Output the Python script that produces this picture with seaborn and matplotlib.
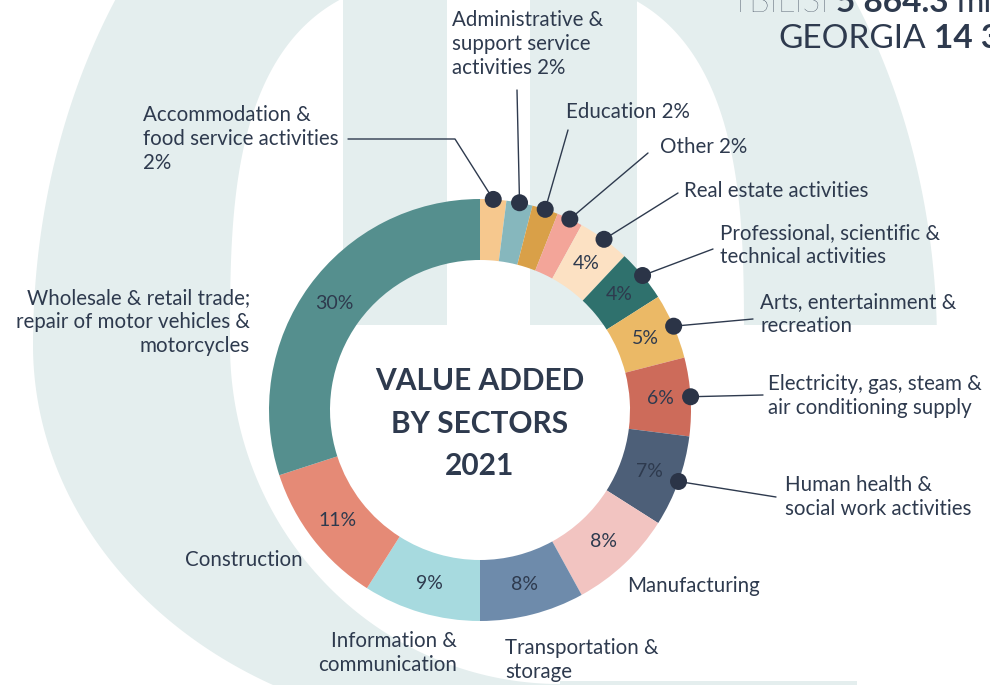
import numpy as np
import matplotlib.pyplot as plt
from matplotlib.patches import Rectangle, PathPatch
from matplotlib.path import Path
import seaborn as sns

W, H = 990, 685

sectors = [
    "Accommodation & food service activities",
    "Administrative & support service activities",
    "Education",
    "Other",
    "Real estate activities",
    "Professional, scientific & technical activities",
    "Arts, entertainment & recreation",
    "Electricity, gas, steam & air conditioning supply",
    "Human health & social work activities",
    "Manufacturing",
    "Transportation & storage",
    "Information & communication",
    "Construction",
    "Wholesale & retail trade; repair of motor vehicles & motorcycles",
]
shares = [2, 2, 2, 2, 4, 4, 5, 6, 7, 8, 8, 9, 11, 30]
colors = ["#F6C88E", "#86B7BD", "#D9A048", "#F3A599", "#FCE1C3", "#2F716D",
          "#EBB966", "#CD6B5A", "#4D5F78", "#F2C4C1", "#6E8BAB", "#A7DADF",
          "#E58A76", "#558F8E"]
label_texts = [
    "Accommodation &\nfood service activities\n2%",
    "Administrative &\nsupport service\nactivities 2%",
    "Education 2%",
    "Other 2%",
    "Real estate activities",
    "Professional, scientific &\ntechnical activities",
    "Arts, entertainment &\nrecreation",
    "Electricity, gas, steam &\nair conditioning supply",
    "Human health &\nsocial work activities",
    "Manufacturing",
    "Transportation &\nstorage",
    "Information &\ncommunication",
    "Construction",
    "Wholesale & retail trade;\nrepair of motor vehicles &\nmotorcycles",
]
with_pointer = [True] * 9 + [False] * 5

title_lines = ["VALUE ADDED", "BY SECTORS", "2021"]
headline_tbilisi = [("TBILISI", "light"), ("5 864.3", "bold"), ("mln", "normal")]
headline_georgia = [("GEORGIA", "normal"), ("14 3", "bold")]

NAVY = "#2E3A4E"
BG = "#E4EEEE"

# layout in pixel coords (y measured from the top)
label_pos = [(143, 139, "left"), (452, 44, "left"), (566, 112, "left"),
             (660, 147, "left"), (684, 191, "left"), (720, 245, "left"),
             (760, 314, "left"), (768, 396, "left"), (785, 497, "left"),
             (627, 586, "left"), (505, 660, "left"), (457, 653, "right"),
             (303, 560, "right"), (250, 322, "right")]
elbows = [[(348, 139), (455, 139)], [(517, 90)], [(568, 130)], [(648, 153)],
          [(678, 193)], [(713, 249)], [(753, 319)], [(763, 395)], [(776, 497)]]


def Y(y):
    return H - y


def half_arc(cx, cy, a, b, n, top, k=400):
    t = np.linspace(0, np.pi, k)
    c = np.cos(t)
    s = np.sin(t)
    if top:
        xs = cx + a * np.sign(c) * np.abs(c) ** (2 / n)
        ys = cy - b * np.abs(s) ** (2 / n)
    else:
        xs = cx - a * np.sign(c) * np.abs(c) ** (2 / n)
        ys = cy + b * np.abs(s) ** (2 / n)
    return np.column_stack([xs, H - ys])


def ring_path():
    outer = np.concatenate([half_arc(485, 345, 452, 600, 2, True),
                            half_arc(485, 345, 452, 385, 2, False)])
    inner = np.concatenate([half_arc(487, 345, 257, 370, 3, True),
                            half_arc(560, 345, 330, 339, 2, False)])[::-1]
    verts = np.concatenate([outer, outer[:1], inner, inner[:1]])
    codes = ([Path.MOVETO] + [Path.LINETO] * (len(outer) - 1) + [Path.CLOSEPOLY]
             + [Path.MOVETO] + [Path.LINETO] * (len(inner) - 1) + [Path.CLOSEPOLY])
    return Path(verts, codes)


def put_row(ax, fig, x0, y, parts, size):
    renderer = fig.canvas.get_renderer()
    x = x0
    for word, weight in parts:
        t = ax.text(x, Y(y), word, fontsize=size, fontweight=weight, color=NAVY,
                    va="baseline", ha="left", zorder=5)
        bb = t.get_window_extent(renderer)
        x = x + bb.width + size * 0.33


def main():
    sns.set_theme(style="white")
    plt.rcParams["font.family"] = ["Lato", "DejaVu Sans"]

    fig = plt.figure(figsize=(W / 100, H / 100), dpi=100)
    ax = fig.add_axes([0, 0, 1, 1])

    # background logo shapes
    ax.add_patch(PathPatch(ring_path(), facecolor=BG, edgecolor="none", zorder=0))
    ax.add_patch(Rectangle((560, Y(681)), 430, 356, facecolor="white", edgecolor="none", zorder=0.5))
    ax.add_patch(Rectangle((560, 0), 297, 4, facecolor=BG, edgecolor="none", zorder=0.6))
    ax.add_patch(Rectangle((343, Y(325)), 104, 325, facecolor=BG, edgecolor="none", zorder=0.6))
    ax.add_patch(Rectangle((530, Y(325)), 107, 325, facecolor=BG, edgecolor="none", zorder=0.6))

    cx, cy, r_out, ring = 480, Y(410), 211, 61
    ax.pie(shares, colors=colors, startangle=90, counterclock=False,
           radius=r_out, center=(cx, cy),
           wedgeprops=dict(width=ring, edgecolor="none"), frame=True)

    starts = np.concatenate([[0], np.cumsum(shares)[:-1]])
    mids = np.deg2rad((starts + np.array(shares) / 2) / 100 * 360)

    # percent labels inside the ring
    r_lab = r_out - ring / 2
    for v, th in zip(shares, mids):
        if v >= 4:
            ax.text(cx + r_lab * np.sin(th), cy + r_lab * np.cos(th), f"{v}%",
                    ha="center", va="center", fontsize=14, color=NAVY, zorder=4)

    # pointer dots and leader lines
    dot_x = [cx + r_out * np.sin(th) for th, p in zip(mids, with_pointer) if p]
    dot_y = [cy + r_out * np.cos(th) for th, p in zip(mids, with_pointer) if p]
    for (dx, dy), pts in zip(zip(dot_x, dot_y), elbows):
        xs = [p[0] for p in pts] + [dx]
        ys = [Y(p[1]) for p in pts] + [dy]
        ax.plot(xs, ys, color=NAVY, lw=1.0, zorder=4)
    sns.scatterplot(x=dot_x, y=dot_y, s=150, color="#2B3447", edgecolor="none",
                    zorder=6, legend=False, ax=ax)

    for txt, (lx, ly, ha) in zip(label_texts, label_pos):
        ax.text(lx, Y(ly), txt, ha=ha, va="center", fontsize=14.8, color=NAVY,
                linespacing=1.27, multialignment=ha, zorder=5)

    # centre title
    for line, yy in zip(title_lines, [381, 424, 466]):
        ax.text(cx, Y(yy), line, ha="center", va="center", fontsize=21.5,
                fontweight="bold", color=NAVY, zorder=5)

    ax.set_xlim(0, W)
    ax.set_ylim(0, H)
    ax.set_aspect("equal")
    ax.axis("off")

    # headline figures (cut by the top edge)
    put_row(ax, fig, 730, 12, headline_tbilisi, 24)
    put_row(ax, fig, 778, 48, headline_georgia, 24)

    fig.savefig("out.png", dpi=100, facecolor="white")


if __name__ == "__main__":
    main()
